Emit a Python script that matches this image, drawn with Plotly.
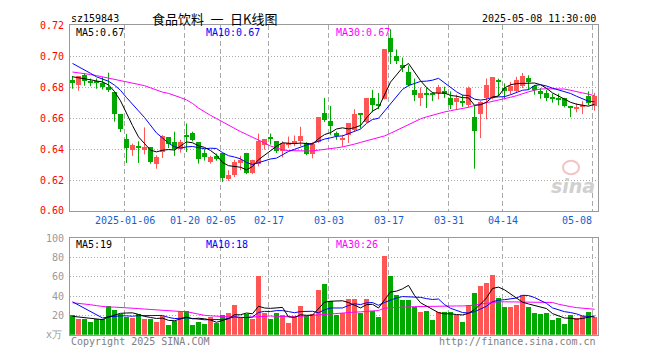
import plotly.graph_objects as go

# ---------------- data ----------------
dates = [
    "2024-12-23", "2024-12-24", "2024-12-25", "2024-12-26", "2024-12-27", "2024-12-30", "2024-12-31",
    "2025-01-02", "2025-01-03", "2025-01-06", "2025-01-07", "2025-01-08", "2025-01-09", "2025-01-10",
    "2025-01-13", "2025-01-14", "2025-01-15", "2025-01-16", "2025-01-17", "2025-01-20", "2025-01-21",
    "2025-01-22", "2025-01-23", "2025-01-24", "2025-01-27", "2025-02-05", "2025-02-06", "2025-02-07",
    "2025-02-10", "2025-02-11", "2025-02-12", "2025-02-13", "2025-02-14", "2025-02-17", "2025-02-18",
    "2025-02-19", "2025-02-20", "2025-02-21", "2025-02-24", "2025-02-25", "2025-02-26", "2025-02-27",
    "2025-02-28", "2025-03-03", "2025-03-04", "2025-03-05", "2025-03-06", "2025-03-07", "2025-03-10",
    "2025-03-11", "2025-03-12", "2025-03-13", "2025-03-14", "2025-03-17", "2025-03-18", "2025-03-19",
    "2025-03-20", "2025-03-21", "2025-03-24", "2025-03-25", "2025-03-26", "2025-03-27", "2025-03-28",
    "2025-03-31", "2025-04-01", "2025-04-02", "2025-04-03", "2025-04-07", "2025-04-08", "2025-04-09",
    "2025-04-10", "2025-04-11", "2025-04-14", "2025-04-15", "2025-04-16", "2025-04-17", "2025-04-18",
    "2025-04-21", "2025-04-22", "2025-04-23", "2025-04-24", "2025-04-25", "2025-04-28", "2025-04-29",
    "2025-04-30", "2025-05-06", "2025-05-07", "2025-05-08",
]

open_ = [
    0.6844, 0.6815, 0.6877, 0.6838, 0.6840, 0.6827, 0.6798, 0.6765, 0.6627, 0.6465,
    0.6394, 0.6413, 0.6394, 0.6413, 0.6302, 0.6377, 0.6475, 0.6444, 0.6398, 0.6483,
    0.6500, 0.6444, 0.6375, 0.6315, 0.6350, 0.6375, 0.6206, 0.6231, 0.6313, 0.6375,
    0.6244, 0.6304, 0.6425, 0.6475, 0.6450, 0.6388, 0.6425, 0.6429, 0.6450, 0.6440,
    0.6367, 0.6444, 0.6631, 0.6581, 0.6502, 0.6454, 0.6492, 0.6523, 0.6631, 0.6575,
    0.6731, 0.6683, 0.6721, 0.7113, 0.7000, 0.6944, 0.6898, 0.6783, 0.6731, 0.6763,
    0.6750, 0.6760, 0.6773, 0.6731, 0.6700, 0.6706, 0.6683, 0.6606, 0.6627, 0.6725,
    0.6731, 0.6846, 0.6794, 0.6773, 0.6773, 0.6804, 0.6856, 0.6804, 0.6773, 0.6763,
    0.6727, 0.6727, 0.6725, 0.6679, 0.6660, 0.6669, 0.6742, 0.6679,
]
high = [
    0.6873, 0.6873, 0.6890, 0.6856, 0.6856, 0.6865, 0.6894, 0.6765, 0.6627, 0.6498,
    0.6435, 0.6450, 0.6540, 0.6413, 0.6360, 0.6490, 0.6475, 0.6512, 0.6460, 0.6565,
    0.6512, 0.6444, 0.6400, 0.6356, 0.6371, 0.6375, 0.6263, 0.6331, 0.6356, 0.6375,
    0.6331, 0.6500, 0.6463, 0.6500, 0.6450, 0.6450, 0.6481, 0.6488, 0.6544, 0.6444,
    0.6444, 0.6606, 0.6731, 0.6679, 0.6513, 0.6492, 0.6569, 0.6658, 0.6631, 0.6731,
    0.6783, 0.6763, 0.7044, 0.7175, 0.7044, 0.6992, 0.6940, 0.6856, 0.6798, 0.6798,
    0.6769, 0.6815, 0.6804, 0.6773, 0.6752, 0.6752, 0.6804, 0.6679, 0.6710, 0.6856,
    0.6863, 0.6856, 0.6825, 0.6835, 0.6867, 0.6892, 0.6877, 0.6815, 0.6794, 0.6783,
    0.6758, 0.6758, 0.6731, 0.6679, 0.6696, 0.6710, 0.6773, 0.6763,
]
low = [
    0.6790, 0.6777, 0.6810, 0.6806, 0.6790, 0.6785, 0.6769, 0.6577, 0.6510, 0.6310,
    0.6356, 0.6310, 0.6365, 0.6306, 0.6273, 0.6342, 0.6406, 0.6356, 0.6377, 0.6381,
    0.6450, 0.6306, 0.6325, 0.6306, 0.6325, 0.6188, 0.6194, 0.6219, 0.6263, 0.6238,
    0.6238, 0.6288, 0.6396, 0.6429, 0.6375, 0.6346, 0.6408, 0.6419, 0.6419, 0.6360,
    0.6340, 0.6440, 0.6575, 0.6492, 0.6460, 0.6415, 0.6440, 0.6515, 0.6533, 0.6569,
    0.6638, 0.6658, 0.6721, 0.6950, 0.6950, 0.6898, 0.6804, 0.6710, 0.6679, 0.6665,
    0.6710, 0.6721, 0.6731, 0.6658, 0.6658, 0.6673, 0.6669, 0.6273, 0.6471, 0.6592,
    0.6721, 0.6742, 0.6721, 0.6752, 0.6763, 0.6794, 0.6783, 0.6752, 0.6725, 0.6710,
    0.6700, 0.6683, 0.6669, 0.6606, 0.6638, 0.6627, 0.6683, 0.6648,
]
close = [
    0.6827, 0.6873, 0.6840, 0.6830, 0.6830, 0.6798, 0.6777, 0.6627, 0.6527, 0.6402,
    0.6427, 0.6410, 0.6413, 0.6313, 0.6346, 0.6481, 0.6431, 0.6398, 0.6444, 0.6477,
    0.6454, 0.6335, 0.6344, 0.6344, 0.6331, 0.6213, 0.6231, 0.6313, 0.6325, 0.6244,
    0.6325, 0.6450, 0.6463, 0.6463, 0.6388, 0.6438, 0.6438, 0.6450, 0.6481, 0.6367,
    0.6429, 0.6606, 0.6585, 0.6544, 0.6485, 0.6467, 0.6569, 0.6627, 0.6615, 0.6731,
    0.6685, 0.6679, 0.7044, 0.7025, 0.6965, 0.6919, 0.6815, 0.6748, 0.6763, 0.6748,
    0.6748, 0.6798, 0.6756, 0.6683, 0.6725, 0.6700, 0.6794, 0.6513, 0.6700, 0.6810,
    0.6863, 0.6829, 0.6773, 0.6804, 0.6846, 0.6871, 0.6831, 0.6783, 0.6752, 0.6727,
    0.6723, 0.6721, 0.6679, 0.6663, 0.6665, 0.6683, 0.6696, 0.6742,
]
# volume, unit: 10k (万)
volume = [
    20.7, 16, 16, 13, 16.7, 16, 30, 26, 21.7, 18.3,
    17, 21.7, 16, 16, 13, 19, 10, 14, 24, 24,
    10, 13, 11, 18, 12, 20, 22, 31, 18, 21,
    16, 61, 22, 16, 22, 20, 12, 19, 30, 19,
    21, 46, 52, 35, 20, 22.3, 37, 37, 22, 37,
    24, 18, 81, 61, 41, 36, 36, 29, 23, 24,
    15, 23, 23, 23, 20, 13, 31, 43, 50, 53,
    62, 38, 29, 29, 31, 41, 29, 22, 21, 22,
    15, 17, 11, 20, 17, 19, 23, 18,
]
# closes / volumes of the sessions just before the visible window (for MA5 / MA10)
prev_close = [0.707, 0.706, 0.705, 0.706, 0.696, 0.690, 0.688, 0.686, 0.687]
prev_volume = [50, 50, 48, 54, 43, 19, 18, 19, 18.3]

# 30-day moving averages
ma30_price = [
    0.6898, 0.6894, 0.6888, 0.6882, 0.6875, 0.6867, 0.6860, 0.6852, 0.6842, 0.6834,
    0.6829, 0.6822, 0.6810, 0.6796, 0.6782, 0.6768, 0.6760, 0.6748, 0.6733, 0.6718,
    0.6695, 0.6665, 0.6640, 0.6618, 0.6597, 0.6575, 0.6555, 0.6533, 0.6513, 0.6495,
    0.6478, 0.6460, 0.6440, 0.6420, 0.6405, 0.6395, 0.6390, 0.6388, 0.6388, 0.6388,
    0.6388, 0.6392, 0.6398, 0.6402, 0.6408, 0.6414, 0.6422, 0.6432, 0.6443, 0.6453,
    0.6462, 0.6472, 0.6485, 0.6502, 0.6520, 0.6540, 0.6560, 0.6578, 0.6595, 0.6608,
    0.6620, 0.6631, 0.6640, 0.6648, 0.6655, 0.6662, 0.6670, 0.6682, 0.6690, 0.6700,
    0.6710, 0.6717, 0.6727, 0.6735, 0.6745, 0.6760, 0.6770, 0.6780, 0.6788, 0.6790,
    0.6790, 0.6790, 0.6788, 0.6780, 0.6770, 0.6763, 0.6755, 0.6745,
]
ma30_volume = [
    33, 32.5, 32, 31, 30, 29, 28.5, 28.5, 28.3, 28,
    27.5, 27, 26.5, 26, 25.5, 25, 24.5, 24.2, 24, 23.8,
    22.5, 21, 20, 19.5, 19, 18.5, 18, 17.8, 17.7, 18,
    18.3, 19, 19.3, 19.3, 19, 18.6, 18.4, 18.5, 19, 19.5,
    20, 20.8, 21.5, 21.8, 22, 22.5, 23, 23.3, 23.6, 24,
    24.3, 25, 27.5, 28, 28.3, 28.5, 28.8, 29, 29.2, 29.3,
    29.4, 29.5, 29.6, 29.7, 29.7, 29.7, 29.8, 30.5, 31.7, 32.5,
    33.3, 34, 34, 34, 34, 34, 33.8, 33.6, 33.5, 33.4,
    33.3, 31.5, 30, 29, 28, 27.3, 27, 26.3,
]

price_ticks = [0.60, 0.62, 0.64, 0.66, 0.68, 0.70, 0.72]
volume_ticks = [20, 40, 60, 80, 100]
label_dates = ["2025-01-06", "2025-01-20", "2025-02-05", "2025-02-17", "2025-03-03",
               "2025-03-17", "2025-03-31", "2025-04-14", "2025-05-08"]
label_texts = ["2025-01-06", "01-20", "02-05", "02-17", "03-03",
               "03-17", "03-31", "04-14", "05-08"]

# ---------------- derived ----------------
n = len(dates)
xi = list(range(n))


def moving_avg(hist, vals, w):
    full = hist + vals
    off = len(hist)
    return [sum(full[k - w + 1:k + 1]) / w for k in range(off, off + len(vals))]


ma5_p = moving_avg(prev_close, close, 5)
ma10_p = moving_avg(prev_close, close, 10)
ma5_v = moving_avg(prev_volume, volume, 5)
ma10_v = moving_avg(prev_volume, volume, 10)

RED = "#FF5555"
GREEN = "#00A800"
up = [c >= o for o, c in zip(open_, close)]

MONO = "DejaVu Sans Mono"
W, H = 660, 360
L_PX, R_PX = 70, 598
P_TOP, P_BOT = 20, 212
V_TOP, V_BOT = 240, 340
SHIFT = 5.0 / 12.0          # candle i occupies px 70+6i .. 75+6i
BODY_W = 5.0 / 6.0


def py(px):
    return 1 - px / H


fig = go.Figure()

# wicks
for flag, col in ((True, RED), (False, GREEN)):
    wx, wy = [], []
    for i in xi:
        if up[i] == flag:
            wx += [i, i, None]
            wy += [low[i], high[i], None]
    fig.add_trace(go.Scatter(x=wx, y=wy, mode="lines", line=dict(color=col, width=1),
                             hoverinfo="skip", showlegend=False, xaxis="x", yaxis="y"))

# bodies
for flag, col in ((True, RED), (False, GREEN)):
    bx = [i for i in xi if up[i] == flag]
    base = [min(open_[i], close[i]) for i in bx]
    hgt = [max(abs(close[i] - open_[i]), 0.0006) for i in bx]
    fig.add_trace(go.Bar(x=bx, y=hgt, base=base, width=BODY_W, marker=dict(color=col, line=dict(width=0)),
                         hoverinfo="skip", showlegend=False, xaxis="x", yaxis="y"))

# price MAs
for arr, col in ((ma30_price, "#FF00FF"), (ma10_p, "#0000FF"), (ma5_p, "#000000")):
    fig.add_trace(go.Scatter(x=xi, y=arr, mode="lines", line=dict(color=col, width=1),
                             hoverinfo="skip", showlegend=False, xaxis="x", yaxis="y"))

# volume bars
fig.add_trace(go.Bar(x=xi, y=volume, width=BODY_W,
                     marker=dict(color=[RED if u else GREEN for u in up], line=dict(width=0)),
                     hoverinfo="skip", showlegend=False, xaxis="x2", yaxis="y2"))
for arr, col in ((ma30_volume, "#FF00FF"), (ma10_v, "#0000FF"), (ma5_v, "#000000")):
    fig.add_trace(go.Scatter(x=xi, y=arr, mode="lines", line=dict(color=col, width=1),
                             hoverinfo="skip", showlegend=False, xaxis="x2", yaxis="y2"))

grid_x = [dates.index(d) - 1.0 / 3.0 for d in label_dates]
xdom = [L_PX / W, R_PX / W]
xrange_ = [-SHIFT, n - SHIFT]

common_x = dict(range=xrange_, domain=xdom, tickvals=grid_x, showticklabels=False, ticks="",
                showgrid=True, gridcolor="#AAAAAA", gridwidth=1, griddash="5px,3px",
                showline=True, mirror=True, linecolor="#999999", linewidth=1, zeroline=False,
                fixedrange=True)

fig.update_layout(
    width=W, height=H,
    margin=dict(l=0, r=0, t=0, b=0),
    paper_bgcolor="white", plot_bgcolor="white",
    barmode="overlay", bargap=0,
    showlegend=False,
    font=dict(family=MONO, size=10, color="#000000"),
    xaxis=dict(anchor="y", **common_x),
    xaxis2=dict(anchor="y2", matches="x", **common_x),
    yaxis=dict(domain=[py(P_BOT), py(P_TOP)], range=[0.60, 0.72], tickvals=price_ticks,
               ticktext=["%.2f" % v for v in price_ticks], tickfont=dict(family=MONO, size=10, color="#FF0000"),
               ticks="", ticklabelstandoff=3,
               showgrid=True, gridcolor="#AAAAAA", gridwidth=1, griddash="1px,2px",
               showline=True, mirror=True, linecolor="#999999", linewidth=1, zeroline=False, fixedrange=True),
    yaxis2=dict(domain=[py(V_BOT), py(V_TOP)], range=[0, 100], tickvals=volume_ticks,
                ticktext=[str(v) for v in volume_ticks], tickfont=dict(family=MONO, size=10, color="#999999"),
                ticks="", ticklabelstandoff=3,
                showgrid=True, gridcolor="#AAAAAA", gridwidth=1, griddash="1px,2px",
                showline=True, mirror=True, linecolor="#999999", linewidth=1, zeroline=False, fixedrange=True),
)

ann = []


def txt(text, x, y, color="#000000", anchor="left", size=10, family=MONO, xref="paper", yanchor="middle"):
    ann.append(dict(text=text, x=x, y=y, xref=xref, yref="paper", xanchor=anchor, yanchor=yanchor,
                    showarrow=False, font=dict(family=family, size=size, color=color)))


# header
txt("sz159843", 69 / W, py(13))
txt("食品饮料\u2002一\u2002日K线图", 214.5 / W, py(13), anchor="center", size=13, family="Noto Sans CJK SC")
txt("2025-05-08 11:30:00", 598 / W, py(13), anchor="right")

# MA labels
txt("MA5:%.2f" % ma5_p[-1], 74 / W, py(27))
txt("MA10:%.2f" % ma10_p[-1], 204 / W, py(27), color="#0000FF")
txt("MA30:%.2f" % ma30_price[-1], 334 / W, py(27), color="#FF00FF")
txt("MA5:%d" % int(ma5_v[-1]), 74 / W, py(247))
txt("MA10:%d" % int(ma10_v[-1]), 204 / W, py(247), color="#0000FF")
txt("MA30:%d" % int(ma30_volume[-1]), 334 / W, py(247), color="#FF00FF")

# date labels
for d, t in zip(label_dates, label_texts):
    gx = dates.index(d) - 1.0 / 3.0
    if d == label_dates[-1]:
        txt(t, 594 / W, py(222), color="#1560D0", anchor="right")
    else:
        ann.append(dict(text=t, x=gx, y=py(222), xref="x", yref="paper", xanchor="center", yanchor="middle",
                        showarrow=False, font=dict(family=MONO, size=10, color="#1560D0")))

# footer
txt("x万", 64 / W, py(340), color="#999999", anchor="right")
txt("Copyright 2025 SINA.COM", 69 / W, py(347), color="#808080")
txt("http://finance.sina.com.cn", 598 / W, py(347), color="#808080", anchor="right")

# watermark
txt("<b><i>sina</i></b>", 573 / W, py(186), color="#D0D0D0", anchor="center", size=19, family="DejaVu Sans")
fig.add_shape(type="circle", xref="paper", yref="paper",
              x0=563 / W, x1=579 / W, y0=py(174), y1=py(160),
              line=dict(color="#F2C4C4", width=2), fillcolor="rgba(0,0,0,0)")

fig.update_layout(annotations=ann)

fig.write_html("out.html", config={"displayModeBar": False},
               post_script="document.body.style.margin='0px'; document.body.style.overflow='hidden';")
